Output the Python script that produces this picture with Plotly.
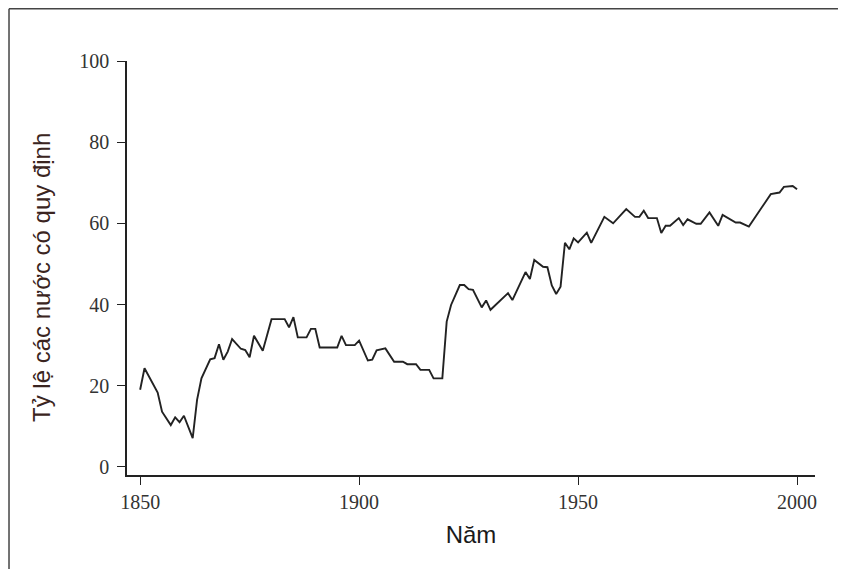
import plotly.graph_objects as go

# Data (year, share of countries with regulation, %)
years = [1850, 1851, 1854, 1855, 1857, 1858, 1859, 1860, 1862, 1863, 1864, 1866,
         1867, 1868, 1869, 1870, 1871, 1873, 1874, 1875, 1876, 1878, 1880, 1883,
         1884, 1885, 1886, 1888, 1889, 1890, 1891, 1895, 1896, 1897, 1899, 1900,
         1902, 1903, 1904, 1906, 1908, 1910, 1911, 1913, 1914, 1916, 1917, 1919,
         1920, 1921, 1923, 1924, 1925, 1926, 1928, 1929, 1930, 1934, 1935, 1938,
         1939, 1940, 1942, 1943, 1944, 1945, 1946, 1947, 1948, 1949, 1950, 1952,
         1953, 1956, 1958, 1960, 1961, 1963, 1964, 1965, 1966, 1968, 1969, 1970,
         1971, 1973, 1974, 1975, 1977, 1978, 1980, 1982, 1983, 1986, 1987, 1989,
         1994, 1996, 1997, 1999, 2000]
values = [19.0, 24.3, 18.3, 13.6, 10.3, 12.2, 11.0, 12.6, 7.1, 16.5, 21.8, 26.5,
          26.8, 30.2, 26.4, 28.4, 31.5, 29.1, 28.8, 27.0, 32.3, 28.6, 36.4, 36.4,
          34.4, 36.9, 31.9, 31.9, 34.0, 34.0, 29.4, 29.4, 32.3, 30.0, 30.0, 31.1,
          26.2, 26.4, 28.7, 29.2, 25.9, 25.9, 25.3, 25.3, 23.9, 23.9, 21.8, 21.8,
          35.8, 39.9, 44.8, 44.8, 43.8, 43.6, 39.3, 41.0, 38.7, 42.8, 41.1, 48.0,
          46.3, 51.0, 49.3, 49.2, 44.7, 42.6, 44.4, 55.2, 53.6, 56.3, 55.3, 57.7,
          55.2, 61.6, 60.0, 62.5, 63.5, 61.6, 61.6, 63.1, 61.3, 61.3, 57.6, 59.4,
          59.4, 61.3, 59.6, 61.0, 59.9, 59.9, 62.7, 59.4, 62.1, 60.2, 60.2, 59.2,
          67.2, 67.6, 69.0, 69.2, 68.4]

x_ticks = [1850, 1900, 1950, 2000]
y_ticks = [0, 20, 40, 60, 80, 100]
x_title = "Năm"
y_title = "Tỷ lệ các nước có quy định"

fig = go.Figure()
fig.add_trace(go.Scatter(x=years, y=values, mode="lines",
                         line=dict(color="#222222", width=1.9),
                         showlegend=False, hoverinfo="x+y"))

tick_font = dict(family="Liberation Serif", size=20, color="#333333")
title_font = dict(family="Liberation Sans", size=24)
frame = dict(color="#444", width=1.5)

fig.update_layout(
    width=830, height=561,
    margin=dict(l=119, r=23, t=53, b=94),
    paper_bgcolor="white", plot_bgcolor="white",
    xaxis=dict(range=[1847, 2004.1], tickvals=x_ticks, ticks="outside", ticklen=8,
               tickwidth=1.3, tickcolor="#222", showline=True, linecolor="#222",
               linewidth=1.5, showgrid=False, zeroline=False, tickfont=tick_font,
               ticklabelstandoff=0,
               title=dict(text=x_title, font=dict(title_font, color="#1a1a1a"), standoff=14)),
    yaxis=dict(range=[-2, 100], tickvals=y_ticks, ticks="outside", ticklen=8,
               tickwidth=1.3, tickcolor="#222", showline=True, linecolor="#222",
               linewidth=1.5, showgrid=False, zeroline=False, tickfont=tick_font,
               ticklabelstandoff=4),
    annotations=[dict(text=y_title, xref="paper", yref="paper", x=-0.1235, y=0.476,
                      xanchor="center", yanchor="middle", textangle=-90,
                      showarrow=False, font=dict(title_font, color="#3a2420"))],
    shapes=[
        dict(type="line", xref="paper", yref="paper",
             x0=-0.1715, x1=1.0334, y0=1.1262, y1=1.1262, line=frame),
        dict(type="line", xref="paper", yref="paper",
             x0=-0.1715, x1=-0.1715, y0=-0.227, y1=1.1262, line=frame),
    ],
)

fig.write_html("out.html")
